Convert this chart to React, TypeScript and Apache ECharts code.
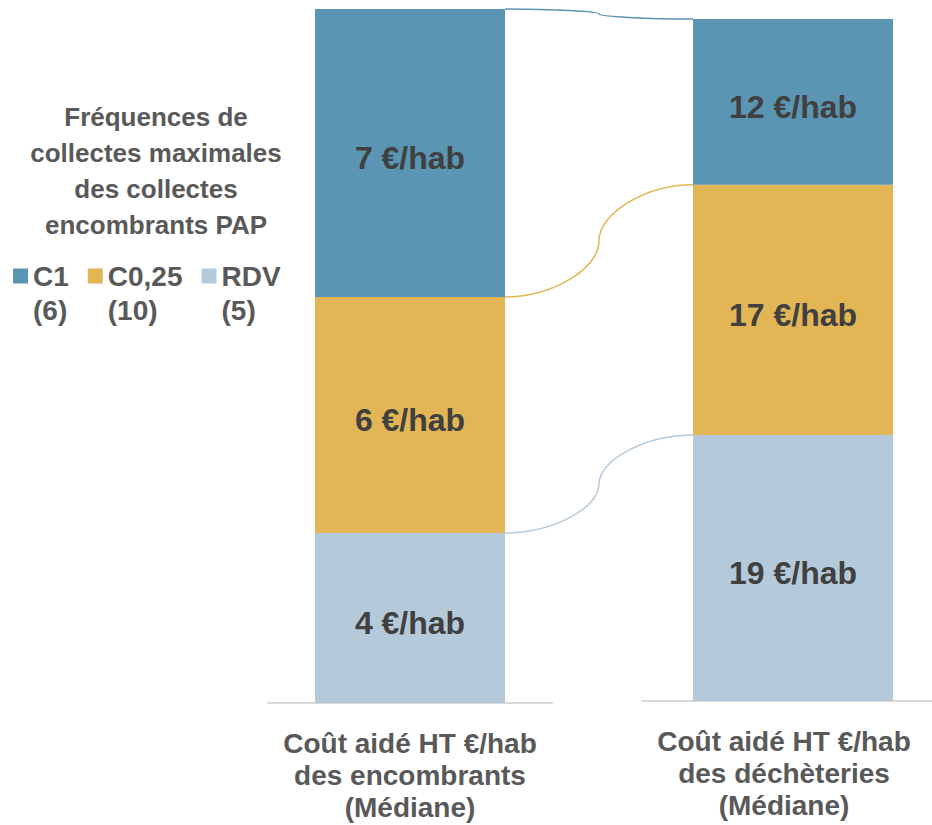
import React, { useEffect, useRef } from 'react';
import * as echarts from 'echarts';

const categories = [
  'Coût aidé HT €/hab\ndes encombrants\n(Médiane)',
  'Coût aidé HT €/hab\ndes déchèteries\n(Médiane)',
];
const seriesNames = ['C1', 'C0,25', 'RDV'];
const seriesCounts = [6, 10, 5];
// share of each bar (%)
const shareC1 = [41.5, 24.3];
const shareC025 = [34.0, 36.7];
const shareRDV = [24.5, 39.0];
// label values (€/hab)
const costC1 = [7, 12];
const costC025 = [6, 17];
const costRDV = [4, 19];
const legendTitle = 'Fréquences de\ncollectes maximales\ndes collectes\nencombrants PAP';

const FONT = "'Liberation Sans', Arial, sans-serif";
const COLORS: Record<string, string> = { C1: '#5A95B3', 'C0,25': '#E2B655', RDV: '#B4C9DA' };

export default function App() {
  const ref = useRef<HTMLDivElement>(null);
  useEffect(() => {
    if (!ref.current) return;
    const chart = echarts.init(ref.current, null, { renderer: 'svg' });
    const barWidths = [190, 200];
    const stackOrder = [
      { name: 'RDV', share: shareRDV, cost: costRDV },
      { name: 'C0,25', share: shareC025, cost: costC025 },
      { name: 'C1', share: shareC1, cost: costC1 },
    ];
    const series: any[] = [];
    [0, 1].forEach((g) => {
      stackOrder.forEach((s) => {
        series.push({
          type: 'bar',
          name: s.name,
          xAxisIndex: g,
          yAxisIndex: g,
          stack: 'stack' + g,
          barWidth: barWidths[g],
          data: [s.share[g]],
          itemStyle: { color: COLORS[s.name] },
          label: {
            show: true,
            position: 'inside',
            offset: [0, 5],
            formatter: () => s.cost[g] + ' €/hab',
            fontSize: 32,
            fontWeight: 'bold',
            color: '#404040',
            fontFamily: FONT,
          },
        });
      });
    });
    const axisLabelBase = {
      interval: 0,
      margin: 24,
      fontSize: 28,
      lineHeight: 32,
      fontWeight: 'bold',
      color: '#595959',
      fontFamily: FONT,
    };
    chart.setOption({
      animation: false,
      title: {
        text: legendTitle,
        left: 156,
        top: 99,
        padding: 0,
        textAlign: 'center',
        textStyle: { fontSize: 26, lineHeight: 36, fontWeight: 'bold', color: '#595959', fontFamily: FONT },
      },
      legend: {
        data: seriesNames,
        left: 8,
        top: 220,
        itemWidth: 15,
        itemHeight: 15,
        itemGap: 19,
        icon: 'rect',
        formatter: (n: string) => '\n' + n + '\n(' + seriesCounts[seriesNames.indexOf(n)] + ')',
        textStyle: {
          fontSize: 28,
          lineHeight: 34,
          fontWeight: 'bold',
          color: '#595959',
          fontFamily: FONT,
        },
      },
      grid: [
        { left: 268, top: 9, width: 284, height: 694, outerBoundsMode: 'none' },
        { left: 642, top: 19, width: 302, height: 682, outerBoundsMode: 'none' },
      ],
      xAxis: [0, 1].map((g) => ({
        type: 'category',
        gridIndex: g,
        data: [categories[g]],
        axisLine: { lineStyle: { color: '#d9d9d9', width: 2 } },
        axisTick: { show: false },
        axisLabel: g === 0 ? axisLabelBase : { ...axisLabelBase, padding: [0, 18, 0, 0] },
      })),
      yAxis: [0, 1].map((g) => ({ type: 'value', gridIndex: g, min: 0, max: 100, show: false })),
      series,
    });

    // connector lines between segment tops of the two bars
    const k = 0.5;
    const graphics: any[] = [];
    let cumL = 0;
    let cumR = 0;
    stackOrder.forEach((s) => {
      cumL += s.share[0];
      cumR += s.share[1];
      const a = chart.convertToPixel({ gridIndex: 0 } as any, [0, cumL]) as number[];
      const b = chart.convertToPixel({ gridIndex: 1 } as any, [0, cumR]) as number[];
      const x0 = a[0] + barWidths[0] / 2;
      const y0 = a[1];
      const x1 = b[0] - barWidths[1] / 2;
      const y1 = b[1];
      const xm = (x0 + x1) / 2;
      const ym = (y0 + y1) / 2;
      const style = { stroke: COLORS[s.name], lineWidth: 1.5, fill: 'none' };
      graphics.push({
        type: 'bezierCurve',
        silent: true,
        shape: { x1: x0, y1: y0, cpx1: x0 + k * (xm - x0), cpy1: y0, cpx2: xm, cpy2: ym + k * (y0 - ym), x2: xm, y2: ym },
        style,
      });
      graphics.push({
        type: 'bezierCurve',
        silent: true,
        shape: { x1: xm, y1: ym, cpx1: xm, cpy1: ym + k * (y1 - ym), cpx2: x1 - k * (x1 - xm), cpy2: y1, x2: x1, y2: y1 },
        style,
      });
    });
    chart.setOption({ graphic: graphics });
    return () => chart.dispose();
  }, []);
  return <div ref={ref} style={{ position: 'absolute', left: 0, top: 0, width: 932, height: 825 }} />;
}
